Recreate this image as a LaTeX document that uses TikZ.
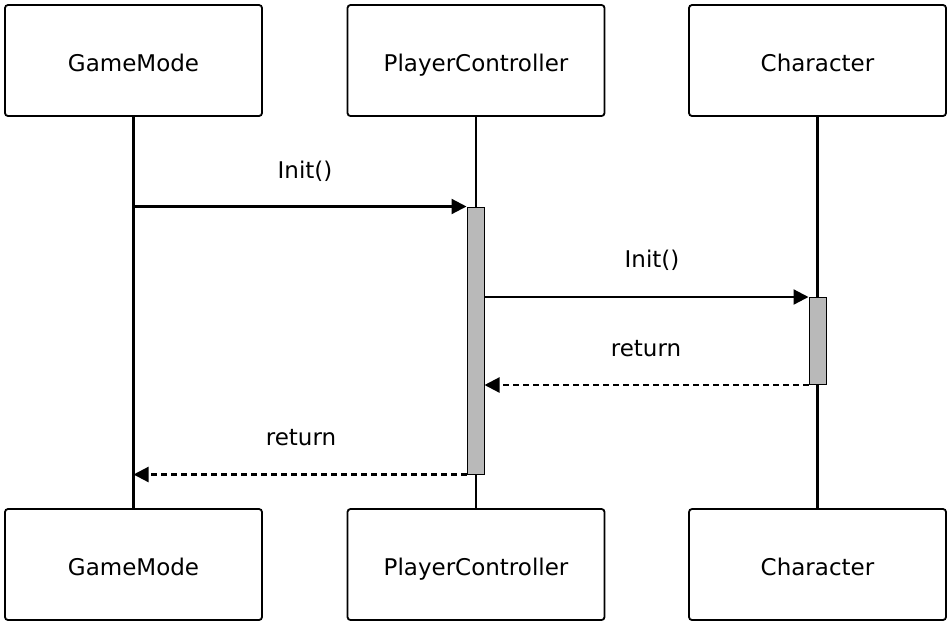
\documentclass[tikz,border=0pt]{standalone}
\usepackage{fontspec}
\setmainfont{DejaVu Sans}
\usepackage{tikz}
\usetikzlibrary{arrows.meta, positioning, calc}

\tikzset{
  actor/.style={draw, line width=1.8pt, rounded corners=3pt, minimum width=257pt,
    minimum height=111pt, text height=24pt, text depth=2pt,
    font=\fontsize{23}{28}\selectfont},
  activ/.style={draw, line width=1pt, fill=gray!55, minimum width=17pt, inner sep=0pt},
  life/.style={line width=2.4pt},
  msg/.style={line width=2.2pt, -{Triangle[length=15pt,width=15pt]}},
  ret/.style={msg, dash pattern=on 6pt off 4pt},
  lbl/.style={font=\fontsize{23}{28}\selectfont}
}

\begin{document}
\begin{tikzpicture}[x=1pt, y=-1pt]
  \useasboundingbox (0,0) rectangle (949,625);
  % Participants, top and bottom
  \node[actor] (gmTop) at (133.5,60.5) {GameMode};
  \node[actor] (pcTop) at (476,60.5) {PlayerController};
  \node[actor] (chTop) at (817.5,60.5) {Character};
  \node[actor] (gmBot) at (133.5,564.5) {GameMode};
  \node[actor] (pcBot) at (476,564.5) {PlayerController};
  \node[actor] (chBot) at (817.5,564.5) {Character};
  % Lifelines
  \draw[life] (gmTop.south) -- (gmBot.north);
  \draw[life] (pcTop.south) -- (pcBot.north);
  \draw[life] (chTop.south) -- (chBot.north);
  % Activation bars
  \node[activ, minimum height=267pt] (actPC) at (475.5,340.5) {};
  \node[activ, minimum height=87pt] (actCh) at (817.5,341) {};
  % Messages
  \draw[msg] (actPC.north west -| gmTop) -- (actPC.north west);
  \draw[msg] (actPC.east |- actCh.north) -- (actCh.north west);
  \draw[ret] (actCh.south west) -- (actCh.south west -| actPC.east);
  \draw[ret] (actPC.south west) -- (actPC.south west -| gmTop);
  % Labels
  \node[lbl] (initA) at (305,171) {Init()};
  \node[lbl] (initB) at (652,260) {Init()};
  \node[lbl] (retB) at (646,349) {return};
  \node[lbl] (retA) at (301,438) {return};
\end{tikzpicture}
\end{document}
